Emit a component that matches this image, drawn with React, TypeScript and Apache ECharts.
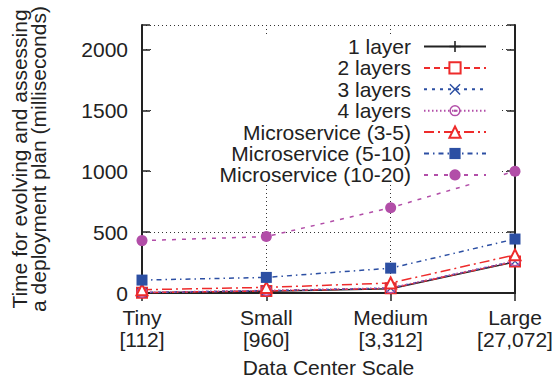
import React, { useEffect, useRef } from "react";
import * as echarts from "echarts";

const categories = ["Tiny\n[112]", "Small\n[960]", "Medium\n[3,312]", "Large\n[27,072]"];
const yTicks = [0, 500, 1000, 1500, 2000];

const oneLayer = [2, 15, 35, 255];
const twoLayers = [3, 17, 38, 258];
const threeLayers = [4, 19, 40, 261];
const fourLayers = [5, 21, 42, 264];
const micro3to5 = [27, 46, 82, 313];
const micro5to10 = [106, 128, 204, 443];
const micro10to20 = [430, 463, 700, 1000];

const seriesNames = [
  "1 layer",
  "2 layers",
  "3 layers",
  "4 layers",
  "Microservice (3-5)",
  "Microservice (5-10)",
  "Microservice (10-20)",
];

const FONT = "'Liberation Sans', Arial, Helvetica, sans-serif";
const INK = "#222";
const RED = "#ee2b2b";
const BLUE = "#2c4fa3";
const PURPLE = "#b24ea8";

const PLUS = "path://M4.3,0H5.7V4.3H10V5.7H5.7V10H4.3V5.7H0V4.3H4.3Z";
const CROSS =
  "path://M0.9,0L5,4.1L9.1,0L10,0.9L5.9,5L10,9.1L9.1,10L5,5.9L0.9,10L0,9.1L4.1,5L0,0.9Z";
const RINGDOT =
  "path://M5,0A5,5 0 1,1 5,10A5,5 0 1,1 5,0ZM5,1.3A3.7,3.7 0 1,0 5,8.7A3.7,3.7 0 1,0 5,1.3ZM5,3.9A1.1,1.1 0 1,1 5,6.1A1.1,1.1 0 1,1 5,3.9Z";

export default function App() {
  const ref = useRef<HTMLDivElement>(null);
  useEffect(() => {
    if (!ref.current) return;
    const chart = echarts.init(ref.current, null, { renderer: "svg" });

    const mk = (
      name: string,
      data: number[],
      color: string,
      dash: any,
      symbol: string,
      size: number,
      empty: boolean
    ) => ({
      name,
      type: "line",
      data,
      color,
      symbol,
      symbolSize: size,
      symbolKeepAspect: true,
      showAllSymbol: true,
      lineStyle: { color, width: 1.5, type: dash },
      itemStyle: empty
        ? { color, borderColor: color, borderWidth: 1.5 }
        : { color, borderWidth: 0 },
      emphasis: { disabled: true },
      z: 2,
    });

    const series: any[] = [
      mk(seriesNames[0], oneLayer, INK, "solid", PLUS, 11, false),
      mk(seriesNames[1], twoLayers, RED, [6, 4], "emptyRect", 10, true),
      mk(seriesNames[2], threeLayers, BLUE, [3, 5], CROSS, 10, false),
      mk(seriesNames[3], fourLayers, PURPLE, [1.5, 2.5], RINGDOT, 11, false),
      mk(seriesNames[4], micro3to5, RED, [10, 4, 2, 4], "emptyTriangle", 11, true),
      mk(seriesNames[5], micro5to10, BLUE, [5, 4, 1.5, 4], "rect", 11, false),
      mk(seriesNames[6], micro10to20, PURPLE, [4, 6], "circle", 11, false),
    ];

    const legends = seriesNames.map((n, i) => ({
      data: [n],
      orient: "horizontal",
      align: "right",
      right: 69,
      top: 36 + i * 21.4,
      padding: 0,
      itemWidth: 62,
      itemHeight: 14,
      selectedMode: false,
      textStyle: {
        fontSize: 21,
        lineHeight: 20,
        color: INK,
        fontFamily: FONT,
        padding: [0, 8, 0, 0],
      },
    }));

    const axisLine = { show: true, lineStyle: { color: INK, width: 2 } };
    const tick = { show: true, inside: true, length: 8, lineStyle: { color: INK, width: 1.5 } };
    const grid = { show: true, lineStyle: { color: "#333", width: 1, type: [1, 3] } };

    chart.setOption({
      animation: false,
      backgroundColor: "#fff",
      grid: { left: 142, right: 41, top: 25, bottom: 88, containLabel: false },
      legend: legends,
      xAxis: [
        {
          type: "category",
          data: categories,
          boundaryGap: false,
          axisLine,
          axisTick: { ...tick, alignWithLabel: true },
          splitLine: grid,
          axisLabel: {
            fontSize: 21,
            lineHeight: 22,
            color: INK,
            fontFamily: FONT,
            margin: 13,
            interval: 0,
          },
          name: "Data Center Scale",
          nameLocation: "middle",
          nameGap: 64,
          nameTextStyle: { fontSize: 21, color: INK, fontFamily: FONT },
        },
        {
          type: "category",
          data: categories,
          boundaryGap: false,
          position: "top",
          axisLine,
          axisTick: tick,
          axisLabel: { show: false },
          splitLine: { show: false },
        },
      ],
      yAxis: [
        {
          type: "value",
          min: 0,
          max: 2200,
          interval: 500,
          axisLine,
          axisTick: tick,
          splitLine: grid,
          axisLabel: {
            fontSize: 21,
            color: INK,
            fontFamily: FONT,
            margin: 14,
            formatter: (v: number) => (yTicks.includes(v) ? String(v) : ""),
          },
          name: "Time for evolving and assessing\na deployment plan (milliseconds)",
          nameLocation: "middle",
          nameGap: 94,
          nameTextStyle: { fontSize: 21, lineHeight: 19, color: INK, fontFamily: FONT },
        },
        {
          type: "value",
          min: 0,
          max: 2200,
          interval: 500,
          position: "right",
          axisLine,
          axisTick: tick,
          axisLabel: { show: false },
          splitLine: { show: false },
        },
      ],
      graphic: [
        {
          type: "rect",
          z: 3,
          silent: true,
          shape: { x: 154, y: 34, width: 346, height: 150 },
          style: { fill: "#fff" },
        },
      ],
      series,
    });
    return () => chart.dispose();
  }, []);

  return (
    <div
      ref={ref}
      style={{ position: "fixed", left: 0, top: 0, width: 556, height: 383 }}
    />
  );
}
